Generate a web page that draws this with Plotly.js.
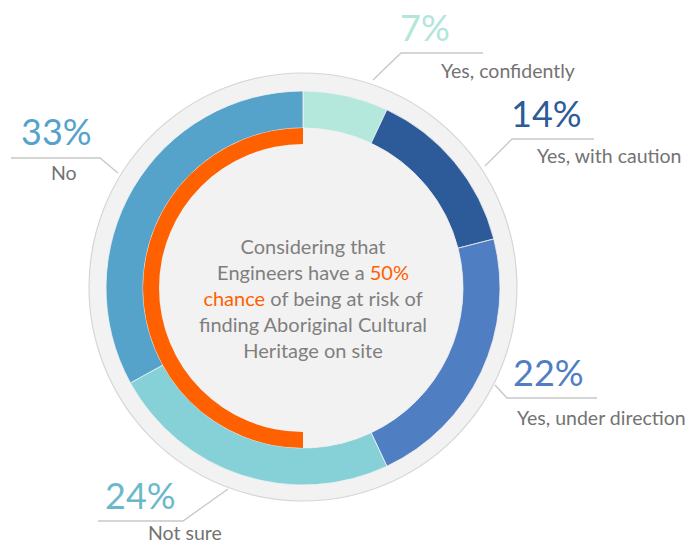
<!DOCTYPE html>
<html>
<head>
<meta charset="utf-8">
<script src="https://cdn.plot.ly/plotly-3.0.1.min.js"></script>
<style>html,body{margin:0;padding:0;background:#fff;}#chart{width:688px;height:545px;}</style>
</head>
<body>
<div id="chart"></div>
<script>
// ---- data ----
const categories = ["Yes, confidently", "Yes, with caution", "Yes, under direction", "Not sure", "No"];
const percents = [7, 14, 22, 24, 33];
const segColors = ["#B4E8DC", "#2D5B99", "#4F7EC3", "#86D0D7", "#55A3CA"];
const pctTextColors = ["#B2E6DA", "#2D5B99", "#4F7EC3", "#6AB9CB", "#55A3CA"];
const riskChance = [50, 50]; // 50% chance (right half blank, left half orange)
const centerLines = [
  "Considering that",
  "Engineers have a <span style='color:#FF6000'>50%</span>",
  "<span style='color:#FF6000'>chance</span> of being at risk of",
  "finding Aboriginal Cultural",
  "Heritage on site"
];

// ---- geometry helpers (pixels -> paper) ----
const W = 688, H = 545;
const px = x => x / W;
const py = y => 1 - y / H;
function dom(cx, cy, r) {
  return { x: [px(cx - r), px(cx + r)], y: [py(cy + r), py(cy - r)] };
}
const CX = 303, CY = 288;

const traces = [
  { // grey backdrop disc
    type: "pie", values: [1], labels: ["bg"], sort: false,
    marker: { colors: ["#F2F2F2"], line: { color: "#D6D6D6", width: 1.2 } },
    domain: dom(CX, CY - 1, 214), textinfo: "none", hoverinfo: "skip", showlegend: false
  },
  { // main response ring
    type: "pie", values: percents, labels: categories, sort: false,
    direction: "clockwise", rotation: 0, hole: 160 / 197,
    marker: { colors: segColors, line: { color: "#F2F2F2", width: 0.8 } },
    domain: dom(CX, CY, 197), textinfo: "none", hoverinfo: "label+percent", showlegend: false
  },
  { // orange 50% ring
    type: "pie", values: riskChance, labels: ["blank", "risk"], sort: false,
    direction: "clockwise", rotation: 0, hole: 144 / 160,
    marker: { colors: ["rgba(0,0,0,0)", "#FF6000"], line: { width: 0 } },
    domain: dom(CX, CY, 160), textinfo: "none", hoverinfo: "skip", showlegend: false
  }
];

// label placements (layout only)
const labelPos = [
  { pct: [425, 27], name: [508, 70], line: [[483, 53], [401, 53], [373, 80]] },
  { pct: [546, 113], name: [609, 155], line: [[594, 139], [512, 139], [485, 166]] },
  { pct: [548, 372], name: [601, 417], line: [[597, 398], [507, 398], [495, 385]] },
  { pct: [140, 495], name: [185, 532], line: [[98, 521], [183, 521], [228, 489]] },
  { pct: [57, 131], name: [64, 173], line: [[11, 158], [100, 158], [118, 173]] }
];

const annotations = [];
const shapes = [];
categories.forEach((c, i) => {
  const L = labelPos[i];
  annotations.push({
    xref: "paper", yref: "paper", x: px(L.pct[0]), y: py(L.pct[1]),
    xanchor: "center", yanchor: "middle", showarrow: false,
    text: percents[i] + "%",
    font: { family: "Lato, sans-serif", size: 36, color: pctTextColors[i] }
  });
  annotations.push({
    xref: "paper", yref: "paper", x: px(L.name[0]), y: py(L.name[1]),
    xanchor: "center", yanchor: "middle", showarrow: false,
    text: c,
    font: { family: "Lato, sans-serif", size: 19.5, color: "#737373" }
  });
  const p = L.line;
  shapes.push({
    type: "path", xref: "paper", yref: "paper", layer: "below",
    path: "M" + px(p[0][0]) + "," + py(p[0][1]) + " L" + px(p[1][0]) + "," + py(p[1][1]) + " L" + px(p[2][0]) + "," + py(p[2][1]),
    line: { color: "#C8C8C8", width: 1.3 }
  });
});

annotations.push({
  xref: "paper", yref: "paper", x: px(313), y: py(298),
  xanchor: "center", yanchor: "middle", showarrow: false, align: "center",
  text: centerLines.join("<br>"),
  font: { family: "Lato, sans-serif", size: 20, color: "#7F7F7F" }
});

const layout = {
  width: W, height: H,
  margin: { l: 0, r: 0, t: 0, b: 0 },
  paper_bgcolor: "#FFFFFF", plot_bgcolor: "#FFFFFF",
  showlegend: false,
  annotations: annotations,
  shapes: shapes
};

Plotly.newPlot("chart", traces, layout, { displayModeBar: false, staticPlot: true });
</script>
</body>
</html>
